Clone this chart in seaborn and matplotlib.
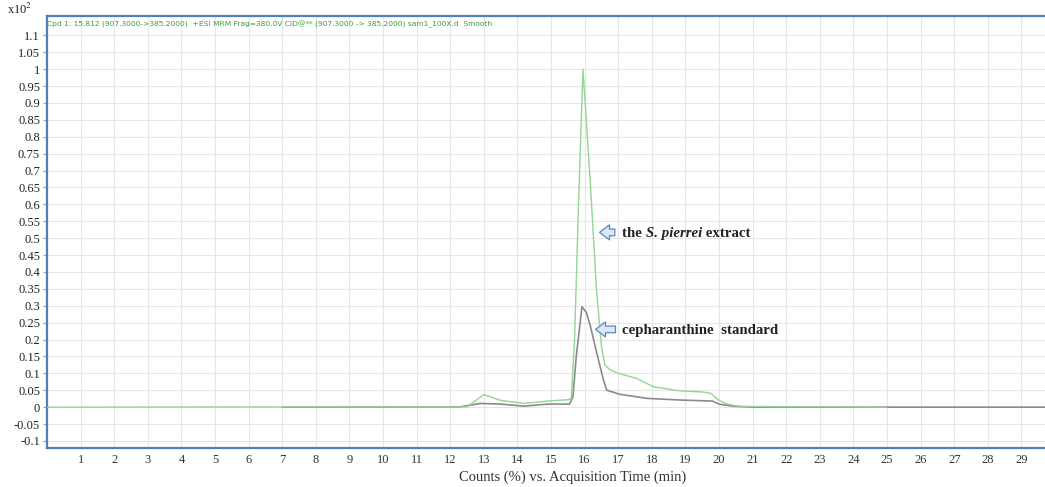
import numpy as np
import pandas as pd
import seaborn as sns
import matplotlib.pyplot as plt

# chromatogram traces (time in min, counts in x10^2 %)
extract_time = [0, 12.5, 12.7, 13.0, 13.5, 14.2, 14.9, 15.5, 15.6, 15.7, 15.82, 15.95,
                16.08, 16.2, 16.35, 16.5, 16.6, 16.76, 17.0, 17.55, 18.05, 18.85, 19.5,
                19.75, 20.0, 20.25, 20.6, 25.0]
extract_counts = [0, 0.001, 0.015, 0.037, 0.02, 0.011, 0.018, 0.022, 0.025, 0.2, 0.61, 1.0,
                  0.8, 0.61, 0.35, 0.18, 0.125, 0.11, 0.10, 0.085, 0.06, 0.048, 0.045,
                  0.041, 0.02, 0.009, 0.002, 0.0]

standard_time = [7.0, 12.3, 12.9, 13.5, 14.2, 14.9, 15.55, 15.65, 15.75, 15.92, 16.05,
                 16.17, 16.36, 16.56, 16.66, 17.05, 17.85, 18.85, 19.8, 20.0, 20.4, 21.0, 29.7]
standard_counts = [0, 0.001, 0.011, 0.009, 0.003, 0.009, 0.009, 0.03, 0.15, 0.297, 0.28,
                   0.24, 0.16, 0.08, 0.05, 0.038, 0.026, 0.021, 0.018, 0.009, 0.003, 0, 0]

x_ticks = list(range(1, 30))
y_ticks = [1.1, 1.05, 1, 0.95, 0.9, 0.85, 0.8, 0.75, 0.7, 0.65, 0.6, 0.55, 0.5, 0.45, 0.4,
           0.35, 0.3, 0.25, 0.2, 0.15, 0.1, 0.05, 0, -0.05, -0.1]
y_tick_labels = ['1.1', '1.05', '1', '0.95', '0.9', '0.85', '0.8', '0.75', '0.7', '0.65',
                 '0.6', '0.55', '0.5', '0.45', '0.4', '0.35', '0.3', '0.25', '0.2', '0.15',
                 '0.1', '0.05', '0', '-0.05', '-0.1']

header = ("Cpd 1: 15.812 (907.3000->385.2000)  +ESI MRM Frag=380.0V CID@** "
          "(907.3000 -> 385.2000) sam1_100X.d  Smooth")

sns.set_style('white')
plt.rcParams['font.family'] = ['Liberation Serif', 'DejaVu Serif']
plt.rcParams['mathtext.fontset'] = 'stix'

fig = plt.figure(figsize=(10.45, 4.87), dpi=100)
ax = fig.add_axes([0.045, 0.08, 0.955, 0.887])

std_df = pd.DataFrame({'t': standard_time, 'c': standard_counts})
ext_df = pd.DataFrame({'t': extract_time, 'c': extract_counts})
sns.lineplot(data=std_df, x='t', y='c', color='#8a8a8a', lw=1.2, estimator=None, ax=ax, zorder=2)
sns.lineplot(data=ext_df, x='t', y='c', color='#93d593', lw=1.0, estimator=None, ax=ax, zorder=3)

ax.set_xlim(0, 29.7)
ax.set_ylim(-0.121, 1.157)
ax.set_xticks(x_ticks)
ax.set_xticklabels([str(t) for t in x_ticks], fontsize=9, color='#333333')
ax.set_yticks(y_ticks)
ax.set_yticklabels(y_tick_labels, fontsize=9, color='#222222')
ax.tick_params(axis='x', length=0, pad=4)
ax.tick_params(axis='y', length=3, width=0.8, color='#9a9a9a', pad=2, left=True)
ax.grid(True, color='#e6e6e6', lw=0.8)
ax.set_axisbelow(True)

for side in ['left', 'top', 'bottom']:
    ax.spines[side].set_color('#4f7fbf')
    ax.spines[side].set_linewidth(1.6)
ax.spines['right'].set_visible(False)

ax.set_xlabel('Counts (%) vs. Acquisition Time (min)', fontsize=10.5, color='#333333')
ax.xaxis.set_label_coords(0.527, -0.052)
ax.set_ylabel('')

fig.text(0.007, 0.965, r'x10$^2$', fontsize=9, color='#222222', va='bottom')
ax.text(0.0, 0.99, header, transform=ax.transAxes, fontsize=5.4, color='#3c9c3c',
        family='DejaVu Sans', va='top', ha='left')

arrow_props = dict(arrowstyle='simple,head_length=0.6,head_width=0.9,tail_width=0.4',
                   mutation_scale=12, fc='#dce7f5', ec='#5a86c0', lw=0.9)
ax.annotate('', xy=(16.36, 0.517), xytext=(16.98, 0.517), arrowprops=arrow_props)
ax.annotate('', xy=(16.24, 0.230), xytext=(17.0, 0.230), arrowprops=arrow_props)

t1 = ax.text(17.11, 0.517, 'the ', fontsize=10.7, fontweight='bold', color='#222222',
             va='center_baseline', ha='left')
t2 = ax.annotate('S. pierrei', xy=(1, 0), xycoords=t1, fontsize=10.7, fontweight='bold',
                 style='italic', color='#222222', va='bottom', ha='left')
ax.annotate(' extract', xy=(1, 0), xycoords=t2, fontsize=10.7, fontweight='bold',
            color='#222222', va='bottom', ha='left')
ax.text(17.11, 0.230, 'cepharanthine  standard', fontsize=10.7, fontweight='bold',
        color='#222222', va='center_baseline', ha='left')

fig.savefig('out.png', dpi=100)
